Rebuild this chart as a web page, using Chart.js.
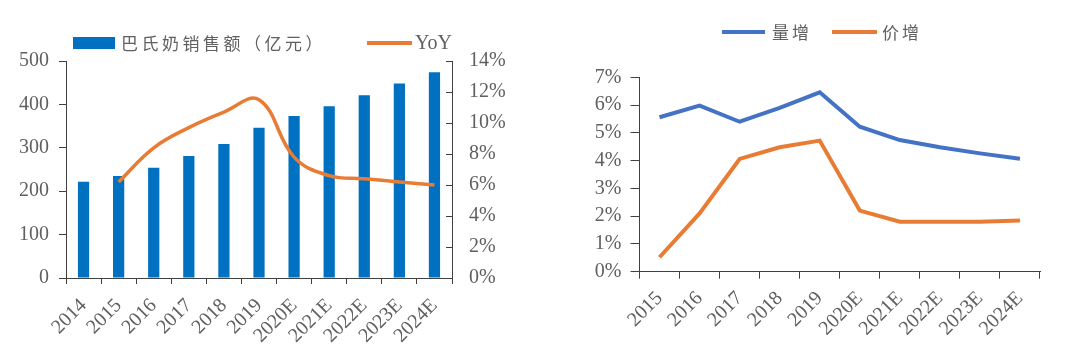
<!DOCTYPE html>
<html><head><meta charset="utf-8">
<script src="https://cdn.jsdelivr.net/npm/chart.js@4.4.1/dist/chart.umd.min.js"></script>
<style>
html,body{margin:0;padding:0;background:#fff;}
#wrap{position:relative;width:1080px;height:363px;overflow:hidden;background:#fff;}
.box{position:absolute;top:0;width:540px;height:363px;}
canvas{display:block;}
</style></head><body>
<div id="wrap">
<div class="box" style="left:0"><canvas id="c1" width="540" height="363"></canvas></div>
<div class="box" style="left:540px"><canvas id="c2" width="540" height="363"></canvas></div>
</div>
<script>
// ---- data ----
const years1 = ['2014','2015','2016','2017','2018','2019','2020E','2021E','2022E','2023E','2024E'];
const salesValues = [222,235,254,281,309,346,373,396,421,448,474];   // 亿元
const yoyValues = [null,6.2,8.4,9.7,10.7,11.5,7.8,6.6,6.4,6.2,6.0];  // %
const years2 = ['2015','2016','2017','2018','2019','2020E','2021E','2022E','2023E','2024E'];
const volumeGrowth = [5.56,5.98,5.40,5.90,6.46,5.22,4.74,4.48,4.26,4.07]; // %
const priceGrowth  = [0.52,2.10,4.06,4.48,4.72,2.20,1.80,1.80,1.80,1.84]; // %

// ---- styles ----
const AXIS = '#404040';
const TXT = '#606060';
const SERIF = '"Liberation Serif","Times New Roman",serif';
const CJK = '"Noto Sans CJK SC","Noto Sans",sans-serif';
const BLUE_BAR = '#0070C0';
const ORANGE = '#E97C35';
const BLUE_LINE = '#4472C4';
const FS = 20;

Chart.defaults.animation = false;
Chart.defaults.font.family = SERIF;
Chart.defaults.color = TXT;

const legendPlugin = {
  id: 'customLegend',
  afterDraw(chart, args, opts) {
    const ctx = chart.ctx;
    ctx.save();
    opts.items.forEach(it => {
      const ds = chart.data.datasets[it.ds];
      if (it.kind === 'box') {
        ctx.fillStyle = ds.backgroundColor;
        ctx.fillRect(it.x, it.y - it.h / 2, it.w, it.h);
      } else {
        ctx.strokeStyle = ds.borderColor;
        ctx.lineWidth = it.h;
        ctx.beginPath();
        ctx.moveTo(it.x, it.y);
        ctx.lineTo(it.x + it.w, it.y);
        ctx.stroke();
      }
      ctx.font = it.font;
      ctx.fillStyle = TXT;
      ctx.textBaseline = 'middle';
      ctx.textAlign = 'left';
      if ('letterSpacing' in ctx) ctx.letterSpacing = it.ls || '0px';
      ctx.fillText(ds.label, it.tx, it.y + (it.dy || 0));
      if ('letterSpacing' in ctx) ctx.letterSpacing = '0px';
    });
    ctx.restore();
  }
};

const inwardTicks = {
  id: 'inwardTicks',
  afterDraw(chart, args, opts) {
    const s = chart.scales[opts.scale];
    if (!s) return;
    const ctx = chart.ctx;
    ctx.save();
    ctx.strokeStyle = AXIS;
    ctx.lineWidth = 1;
    s.ticks.forEach(t => {
      const y = Math.round(s.getPixelForValue(t.value)) + 0.5;
      ctx.beginPath();
      ctx.moveTo(s.left - opts.len, y);
      ctx.lineTo(s.left, y);
      ctx.stroke();
    });
    ctx.restore();
  }
};

// ---- left chart ----
new Chart(document.getElementById('c1'), {
  data: {
    labels: years1,
    datasets: [
      { type: 'line', label: 'YoY', data: yoyValues, yAxisID: 'y1',
        borderColor: ORANGE, borderWidth: 3.5, pointRadius: 0, tension: 0.4,
        fill: false, order: 0 },
      { type: 'bar', label: '巴氏奶销售额（亿元）', data: salesValues, yAxisID: 'y',
        backgroundColor: BLUE_BAR, barPercentage: 0.32, categoryPercentage: 1, order: 1 }
    ]
  },
  options: {
    responsive: false,
    devicePixelRatio: 1,
    layout: { padding: { top: 61, left: 0, right: 0, bottom: 0 } },
    plugins: {
      legend: { display: false },
      tooltip: { enabled: false },
      customLegend: { items: [
        { ds: 1, kind: 'box', x: 73, y: 43, w: 42, h: 12, tx: 121, font: '17px ' + CJK, ls: '3.5px', dy: 1 },
        { ds: 0, kind: 'line', x: 367, y: 43, w: 45, h: 4, tx: 415, font: FS + 'px ' + SERIF, dy: 1 }
      ] },
      inwardTicks: { scale: 'y1', len: 6 }
    },
    scales: {
      x: {
        offset: true,
        grid: { offset: true, drawOnChartArea: false, color: AXIS, tickLength: 6 },
        border: { color: AXIS },
        ticks: { autoSkip: false, minRotation: 45, maxRotation: 45, padding: 10,
                 font: { size: FS, family: SERIF }, color: TXT },
        afterFit: s => { s.height = 85; }
      },
      y: {
        position: 'left', min: 0, max: 500,
        grid: { drawOnChartArea: false, color: AXIS, tickLength: 7 },
        border: { color: AXIS },
        ticks: { stepSize: 100, padding: 10, font: { size: FS, family: SERIF }, color: TXT },
        afterFit: s => { s.width = 66; }
      },
      y1: {
        position: 'right', min: 0, max: 14,
        grid: { drawOnChartArea: false, drawTicks: false, color: AXIS },
        border: { color: AXIS },
        ticks: { stepSize: 2, padding: 17, font: { size: FS, family: SERIF }, color: TXT,
                 callback: v => v + '%' },
        afterFit: s => { s.width = 88; }
      }
    }
  },
  plugins: [legendPlugin, inwardTicks]
});

// ---- right chart ----
new Chart(document.getElementById('c2'), {
  type: 'line',
  data: {
    labels: years2,
    datasets: [
      { label: '量增', data: volumeGrowth, borderColor: BLUE_LINE, backgroundColor: BLUE_LINE,
        borderWidth: 4, pointRadius: 0, tension: 0, fill: false },
      { label: '价增', data: priceGrowth, borderColor: ORANGE, backgroundColor: ORANGE,
        borderWidth: 4, pointRadius: 0, tension: 0, fill: false }
    ]
  },
  options: {
    responsive: false,
    devicePixelRatio: 1,
    layout: { padding: { top: 77.3, left: 0, right: 40, bottom: 0 } },
    plugins: {
      legend: { display: false },
      tooltip: { enabled: false },
      customLegend: { items: [
        { ds: 0, kind: 'line', x: 182, y: 32, w: 43, h: 4, tx: 232, font: '17px ' + CJK, ls: '3px', dy: 1 },
        { ds: 1, kind: 'line', x: 292, y: 32, w: 45, h: 4, tx: 342, font: '17px ' + CJK, ls: '3px', dy: 1 }
      ] }
    },
    scales: {
      x: {
        offset: true,
        grid: { offset: true, drawOnChartArea: false, color: AXIS, tickLength: 7 },
        border: { color: AXIS },
        ticks: { autoSkip: false, minRotation: 45, maxRotation: 45, padding: 8,
                 font: { size: FS, family: SERIF }, color: TXT },
        afterFit: s => { s.height = 91.3; }
      },
      y: {
        min: 0, max: 7,
        grid: { drawOnChartArea: false, color: AXIS, tickLength: 9 },
        border: { color: AXIS },
        ticks: { stepSize: 1, padding: 9, font: { size: FS, family: SERIF }, color: TXT,
                 callback: v => v + '%' },
        afterFit: s => { s.width = 99.5; }
      }
    }
  },
  plugins: [legendPlugin]
});
</script>
</body></html>
